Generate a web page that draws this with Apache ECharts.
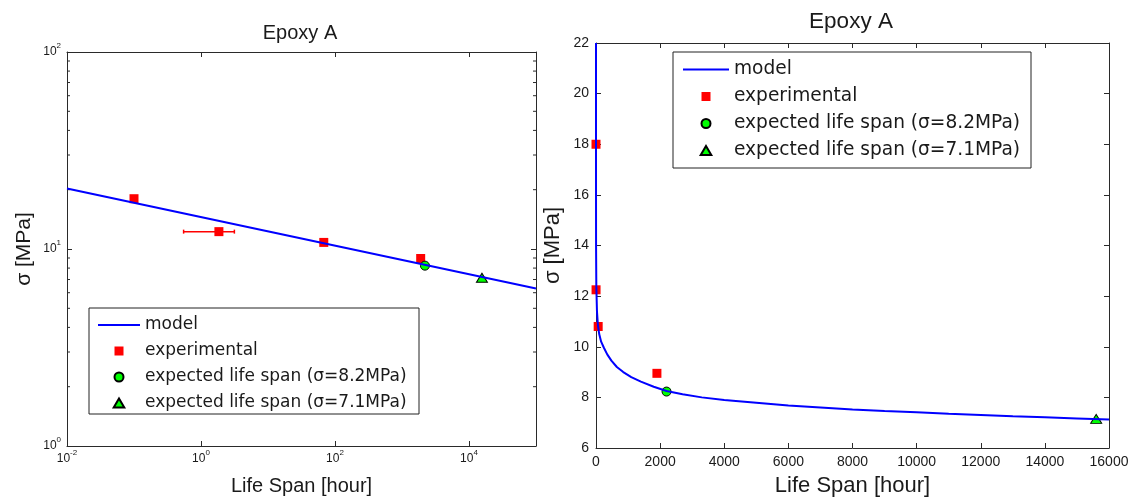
<!DOCTYPE html>
<html>
<head>
<meta charset="utf-8">
<script src="https://cdn.jsdelivr.net/npm/echarts@6/dist/echarts.min.js"></script>
<style>
html, body { margin: 0; padding: 0; background: #fff; }
#charts { width: 1133px; height: 498px; }
</style>
</head>
<body>
<div id="charts"></div>
<script>
var chartDom = document.getElementById('charts');
var myChart = echarts.init(chartDom);
var option;

// legend entries (same in both panels)
var legendNames = ['model', 'experimental', 'expected life span (σ=8.2MPa)', 'expected life span (σ=7.1MPa)'];

// model on the log-log panel (straight line there)
var modelLogT = [0.01, 100000];
var modelLogS = [20.3, 6.3];

// model on the linear panel
var modelT = [0.004, 0.02, 0.1, 0.5, 2, 10, 30, 60, 100, 160, 250, 350, 480, 650, 850, 1100, 1400, 1800, 2200, 2700,
              3300, 4000, 5000, 6000, 7000, 8000, 9000, 10000, 11000, 12000, 13000, 14000, 15000, 16000];
var modelS = [22.0, 19.9, 17.9, 16.0, 14.0, 12.4, 11.4, 10.85, 10.5, 10.2, 9.95, 9.7, 9.45, 9.2, 9.0, 8.8, 8.62, 8.42, 8.25, 8.12,
              8.0, 7.9, 7.79, 7.68, 7.6, 7.52, 7.46, 7.41, 7.35, 7.3, 7.25, 7.21, 7.17, 7.13];

// experimental points [hour, MPa]
var expT = [0.1, 1.85, 68, 1900];
var expS = [18.0, 12.25, 10.8, 8.95];

// horizontal error bar (only on the 2nd point)
var errLow = [0.55];
var errHigh = [3.15];
var errS = [12.25];

// expected life spans
var life82T = [2200];
var life82S = [8.23];
var life71T = [15600];
var life71S = [7.15];

// minor ticks of the log stress axis
var minorY = [2, 3, 4, 5, 6, 7, 8, 9, 20, 30, 40, 50, 60, 70, 80, 90];

var SANS = '"Liberation Sans", Arial, sans-serif';
var INK = '#1a1a1a';
var AXC = '#2a2a2a';

function pairs(xs, ys) {
  return xs.map(function (x, i) { return [x, ys[i]]; });
}

function pow10(v) {
  var e = Math.round(Math.log(v) / Math.LN10);
  return '{b|10}{e|' + e + '}';
}
var powRich = {
  b: { fontSize: 12, lineHeight: 12, verticalAlign: 'middle', fontFamily: SANS, color: INK },
  e: { fontSize: 8, lineHeight: 8, verticalAlign: 'middle', padding: [0, 0, 13, 0], fontFamily: SANS, color: INK }
};

function axis(type, grid, pos, opts) {
  var a = {
    type: type,
    gridIndex: grid,
    position: pos,
    axisLine: { show: true, onZero: false, lineStyle: { color: AXC, width: 1 } },
    axisTick: { show: true, inside: true, length: 5, lineStyle: { color: AXC } },
    axisLabel: { show: false },
    splitLine: { show: false },
    minorTick: { show: false }
  };
  for (var k in opts) a[k] = opts[k];
  return a;
}

var nameStyle = function (size) {
  return { fontFamily: SANS, fontSize: size, color: INK };
};

function plainNum(v) { return String(v); }

// path icons keep their aspect inside the legend item box
var legendIcons = ['path://M0,0H42V2H0Z', 'path://M0,0H10V10H0Z', 'circle', 'path://M5,0L10,8.5L0,8.5Z'];

function legendBox(left, top, itemW, gap, pad, size, lh, w) {
  return {
    orient: 'vertical',
    left: left,
    top: top,
    data: legendNames.map(function (n, i) { return { name: n, icon: legendIcons[i] }; }),
    selectedMode: false,
    itemWidth: itemW,
    itemHeight: 9,
    itemGap: gap,
    symbolKeepAspect: true,
    padding: pad,
    borderColor: '#222',
    borderWidth: 1,
    borderRadius: 0,
    backgroundColor: '#fff',
    textStyle: { fontFamily: '"DejaVu Sans", sans-serif', fontSize: size, lineHeight: lh, color: INK, width: w }
  };
}

function dots(name, xi, xs, ys, sym, size, bordered, color) {
  return {
    name: name, type: 'scatter', xAxisIndex: xi, yAxisIndex: xi,
    data: pairs(xs, ys), symbol: sym, symbolSize: size,
    itemStyle: bordered ? { color: color, borderColor: '#000', borderWidth: 1, opacity: 1 } : { color: color, opacity: 1 }
  };
}

option = {
  animation: false,
  backgroundColor: '#fff',
  grid: [
    { left: 67, top: 52, width: 469, height: 394, outerBoundsMode: 'none' },
    { left: 596, top: 43, width: 513, height: 405, outerBoundsMode: 'none' }
  ],
  graphic: [
    { type: 'text', x: 300, y: 33, style: { text: 'Epoxy A', font: '20px ' + SANS, fill: INK, align: 'center', verticalAlign: 'middle', textAlign: 'center', textVerticalAlign: 'middle' } },
    { type: 'text', x: 851, y: 22, style: { text: 'Epoxy A', font: '22.5px ' + SANS, fill: INK, align: 'center', verticalAlign: 'middle', textAlign: 'center', textVerticalAlign: 'middle' } }
  ],
  legend: [
    legendBox(89, 308, 42, 6, [7, 10, 1, 9], 17, 20, 264),
    legendBox(673, 52, 46, 6, [7, 10, 7, 10], 18.6, 21, 287)
  ],
  xAxis: [
    axis('log', 0, 'bottom', {
      logBase: 10, min: 0.01, max: 100000, interval: 2,
      axisLabel: {
        show: true, margin: 7, rich: powRich,
        formatter: function (v) {
          var e = Math.round(Math.log(v) / Math.LN10);
          return (e % 2 !== 0) ? '' : pow10(v);
        }
      },
      name: 'Life Span [hour]', nameLocation: 'middle', nameGap: 30, nameTextStyle: nameStyle(20)
    }),
    axis('log', 0, 'top', { logBase: 10, min: 0.01, max: 100000, interval: 2 }),
    axis('value', 1, 'bottom', {
      min: 0, max: 16000, interval: 2000,
      axisLabel: { show: true, margin: 7, fontFamily: SANS, fontSize: 14, color: INK, formatter: plainNum },
      name: 'Life Span [hour]', nameLocation: 'middle', nameGap: 27, nameTextStyle: nameStyle(22)
    }),
    axis('value', 1, 'top', { min: 0, max: 16000, interval: 2000 })
  ],
  yAxis: [
    axis('log', 0, 'left', {
      logBase: 10, min: 1, max: 100, interval: 1,
      axisLabel: { show: true, margin: 6, rich: powRich, formatter: pow10 },
      name: 'σ [MPa]', nameLocation: 'middle', nameRotate: 90, nameGap: 32, nameTextStyle: nameStyle(21)
    }),
    axis('log', 0, 'right', { logBase: 10, min: 1, max: 100, interval: 1 }),
    axis('value', 1, 'left', {
      min: 6, max: 22, interval: 2,
      axisLabel: { show: true, margin: 7, fontFamily: SANS, fontSize: 14, color: INK, formatter: plainNum },
      name: 'σ [MPa]', nameLocation: 'middle', nameRotate: 90, nameGap: 32, nameTextStyle: nameStyle(22)
    }),
    axis('value', 1, 'right', { min: 6, max: 22, interval: 2 })
  ],
  series: [
    // ---- left, log-log ----
    {
      name: 'model', type: 'line', xAxisIndex: 0, yAxisIndex: 0,
      data: pairs(modelLogT, modelLogS), symbol: 'none',
      lineStyle: { color: '#0000ff', width: 2 }, itemStyle: { color: '#0000ff' }
    },
    {
      type: 'custom', xAxisIndex: 0, yAxisIndex: 0, silent: true,
      data: errLow.map(function (lo, i) { return [lo, errHigh[i], errS[i]]; }),
      encode: { x: [0, 1], y: 2 },
      renderItem: function (params, api) {
        var a = api.coord([api.value(0), api.value(2)]);
        var b = api.coord([api.value(1), api.value(2)]);
        var st = { stroke: '#ff0000', lineWidth: 1.5 };
        return {
          type: 'group',
          children: [
            { type: 'line', shape: { x1: a[0], y1: a[1], x2: b[0], y2: b[1] }, style: st },
            { type: 'line', shape: { x1: a[0], y1: a[1] - 2, x2: a[0], y2: a[1] + 2 }, style: st },
            { type: 'line', shape: { x1: b[0], y1: b[1] - 2, x2: b[0], y2: b[1] + 2 }, style: st }
          ]
        };
      }
    },
    {
      type: 'custom', xAxisIndex: 0, yAxisIndex: 0, silent: true,
      data: minorY.map(function (v) { return [1, v]; }),
      encode: { x: 0, y: 1 },
      renderItem: function (params, api) {
        var p = api.coord([1, api.value(1)]);
        var cs = params.coordSys;
        var st = { stroke: AXC, lineWidth: 1 };
        return {
          type: 'group',
          children: [
            { type: 'line', shape: { x1: cs.x, y1: p[1], x2: cs.x + 3, y2: p[1] }, style: st },
            { type: 'line', shape: { x1: cs.x + cs.width - 3, y1: p[1], x2: cs.x + cs.width, y2: p[1] }, style: st }
          ]
        };
      }
    },
    dots('experimental', 0, expT, expS, 'rect', 9, false, '#ff0000'),
    dots(legendNames[2], 0, life82T, life82S, 'circle', 9, true, '#00ff00'),
    dots(legendNames[3], 0, life71T, life71S, 'triangle', [11, 9], true, '#00ff00'),
    // ---- right, linear ----
    {
      name: 'model', type: 'line', xAxisIndex: 2, yAxisIndex: 2,
      data: pairs(modelT, modelS), symbol: 'none',
      lineStyle: { color: '#0000ff', width: 2 }, itemStyle: { color: '#0000ff' }
    },
    dots('experimental', 2, expT, expS, 'rect', 9, false, '#ff0000'),
    dots(legendNames[2], 2, life82T, life82S, 'circle', 9, true, '#00ff00'),
    dots(legendNames[3], 2, life71T, life71S, 'triangle', [11, 9], true, '#00ff00')
  ]
};

option && myChart.setOption(option);
</script>
</body>
</html>
